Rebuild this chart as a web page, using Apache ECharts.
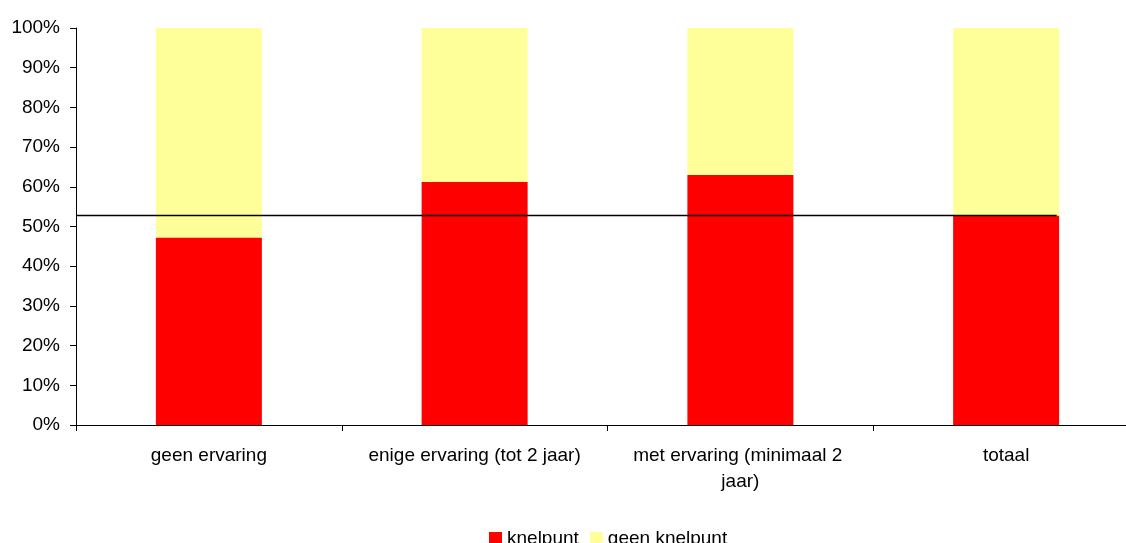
<!DOCTYPE html>
<html>
<head>
<meta charset="utf-8">
<script src="https://cdn.jsdelivr.net/npm/echarts@6/dist/echarts.min.js"></script>
<style>
  html, body { margin: 0; padding: 0; background: #fff; overflow: hidden; }
  /* the plot runs slightly past the right edge of the window */
  #chart { width: 1140px; height: 543px; }
</style>
</head>
<body>
<div id="chart"></div>
<script>
// Share of respondents reporting a bottleneck, by experience level
const categories = ['geen ervaring', 'enige ervaring (tot 2 jaar)', 'met ervaring (minimaal 2 jaar)', 'totaal'];
const knelpunt = [47.2, 61.2, 63.0, 52.8];
const geenKnelpunt = [52.8, 38.8, 37.0, 47.2];
const gemiddelde = 52.8;
const yTicks = [0, 10, 20, 30, 40, 50, 60, 70, 80, 90, 100];

const FONT = 'Liberation Sans, Arial, sans-serif';
const chart = echarts.init(document.getElementById('chart'));

chart.setOption({
  animation: false,
  backgroundColor: '#ffffff',
  textStyle: { fontFamily: FONT },
  grid: { left: 76, top: 28, width: 1063, height: 397 },
  legend: {
    left: 484,
    top: 524,
    itemWidth: 13,
    itemHeight: 13,
    itemGap: 11,
    icon: 'rect',
    textStyle: { fontFamily: FONT, fontSize: 19, color: '#000' },
    data: ['knelpunt', 'geen knelpunt']
  },
  xAxis: [
    {
      type: 'category',
      data: categories,
      axisLine: { lineStyle: { color: '#000', width: 1 } },
      axisTick: { show: true, interval: 0, length: 6, lineStyle: { color: '#000' } },
      axisLabel: {
        interval: 0,
        color: '#000',
        fontFamily: FONT,
        fontSize: 19,
        margin: 18,
        width: 240,
        overflow: 'break',
        lineHeight: 26
      }
    },
    {
      type: 'value',
      min: 0,
      max: categories.length,
      show: false
    }
  ],
  yAxis: {
    type: 'value',
    min: yTicks[0],
    max: yTicks[yTicks.length - 1],
    interval: 10,
    splitLine: { show: false },
    axisLine: { show: true, lineStyle: { color: '#000', width: 1 } },
    axisTick: { show: true, length: 6, lineStyle: { color: '#000' } },
    axisLabel: {
      color: '#000',
      fontFamily: FONT,
      fontSize: 19,
      margin: 16,
      formatter: v => v + '%'
    }
  },
  series: [
    {
      name: 'knelpunt',
      type: 'bar',
      stack: 'totaal',
      barWidth: 106,
      data: knelpunt,
      itemStyle: { color: '#ff0000' }
    },
    {
      name: 'geen knelpunt',
      type: 'bar',
      stack: 'totaal',
      barWidth: 106,
      data: geenKnelpunt,
      itemStyle: { color: '#ffff99' }
    },
    {
      name: 'gemiddelde',
      type: 'line',
      xAxisIndex: 1,
      data: [[0, gemiddelde], [3.69, gemiddelde]],
      symbol: 'none',
      lineStyle: { color: '#000', width: 1.5 },
      z: 5
    }
  ]
});
</script>
</body>
</html>
